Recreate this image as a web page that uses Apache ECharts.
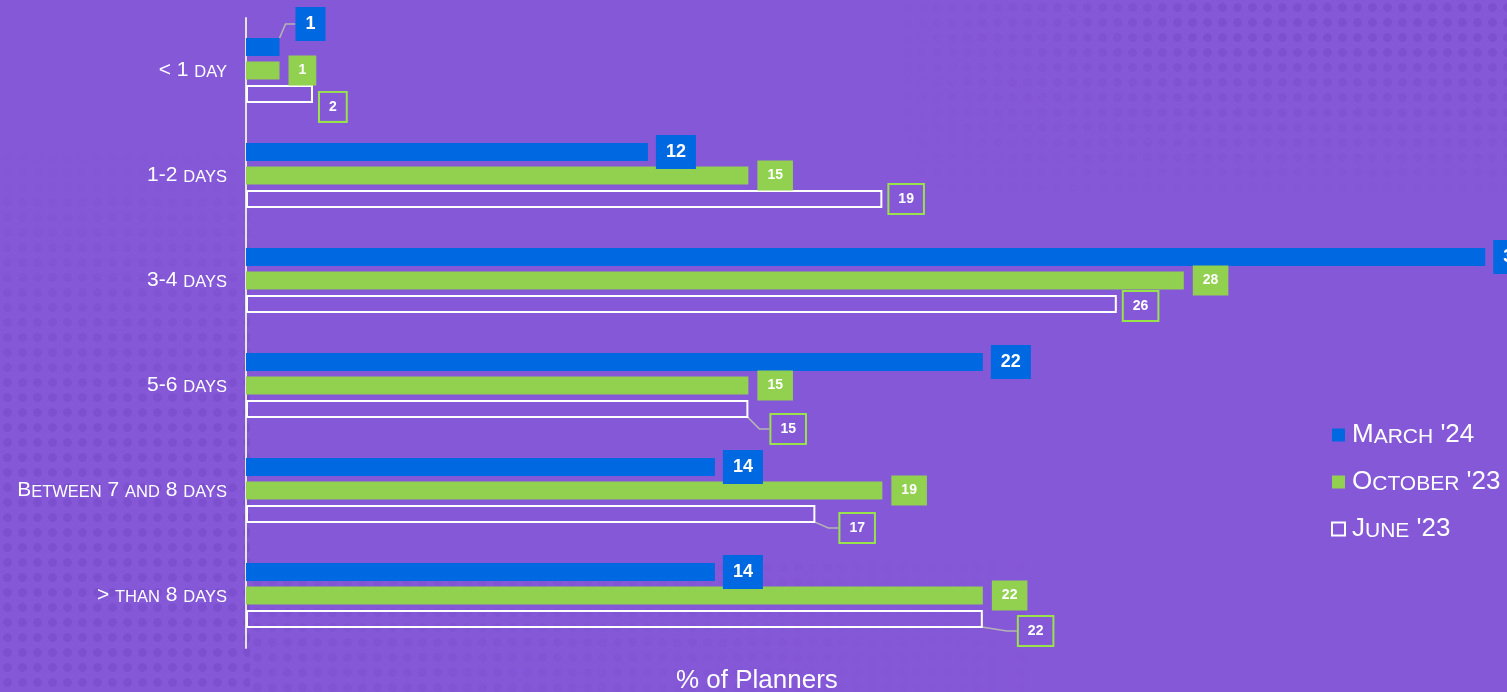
<!DOCTYPE html>
<html>
<head>
<meta charset="utf-8">
<title>Length of trip</title>
<script src="https://cdn.jsdelivr.net/npm/echarts@6/dist/echarts.min.js"></script>
<style>
  html, body { margin: 0; padding: 0; width: 1507px; height: 692px; overflow: hidden; background: #8558d8; }
  .dots {
    position: absolute; pointer-events: none;
    background-image: radial-gradient(circle, rgba(95, 55, 175, 0.22) 4px, rgba(95, 55, 175, 0) 4.8px);
    background-size: 15px 15px;
  }
  #dotsTop { left: 900px; top: 0; width: 607px; height: 200px;
    -webkit-mask-image: linear-gradient(to bottom, #000 20%, rgba(0,0,0,0) 100%), linear-gradient(to right, rgba(0,0,0,0) 0%, #000 50%);
    -webkit-mask-composite: source-in;
    mask-image: linear-gradient(to bottom, #000 20%, rgba(0,0,0,0) 100%), linear-gradient(to right, rgba(0,0,0,0) 0%, #000 50%);
    mask-composite: intersect; }
  #dotsLeft { left: 0; top: 150px; width: 250px; height: 542px;
    -webkit-mask-image: linear-gradient(to bottom, rgba(0,0,0,0) 0%, #000 50%, #000 100%);
    mask-image: linear-gradient(to bottom, rgba(0,0,0,0) 0%, #000 50%, #000 100%); }
  #dotsBottom { left: 250px; top: 560px; width: 800px; height: 132px; opacity: 0.6;
    -webkit-mask-image: linear-gradient(to right, #000 0%, rgba(0,0,0,0) 100%);
    mask-image: linear-gradient(to right, #000 0%, rgba(0,0,0,0) 100%); }
  #chart { position: absolute; left: 0; top: 0; width: 1507px; height: 692px; }
</style>
</head>
<body>
<div class="dots" id="dotsTop"></div>
<div class="dots" id="dotsLeft"></div>
<div class="dots" id="dotsBottom"></div>
<div id="chart"></div>
<script>
// Trip length categories and share of planners (%) per survey wave
const categories = ['< 1 day', '1-2 days', '3-4 days', '5-6 days', 'Between 7 and 8 days', '> than 8 days'];
const seriesNames = ["March '24", "October '23", "June '23"];
const march24 = [1, 12, 37, 22, 14, 14];
const october23 = [1, 15, 28, 15, 19, 22];
const june23 = [2, 19, 26, 15, 17, 22];

// Label nudges [dx, dy, showLeaderLine] where labels would crowd
const marchNudge = [[8, -23, true], [0, 0, false], [0, 0, false], [0, 0, false], [0, 0, false], [0, 0, false]];
const juneNudge = [[0, 13, false], [0, 0, false], [0, 2, false], [16, 20, true], [18, 14, true], [29, 12, true]];

const FONT = 'Arial, "Liberation Sans", sans-serif';
const BLUE = '#0068e0';
const GREEN = '#92d050';
const LIME = '#98e24a';

// Render text in small caps: lowercase runs become smaller uppercase
function smallCaps(s) {
  let out = '', run = '', mode = null;
  for (const ch of s) {
    const m = /[a-z]/.test(ch) ? 's' : 'b';
    if (mode !== null && m !== mode && run) { out += '{' + mode + '|' + run + '}'; run = ''; }
    mode = m;
    run += m === 's' ? ch.toUpperCase() : ch;
  }
  if (run) out += '{' + mode + '|' + run + '}';
  return out;
}

function withLine(values, nudges) {
  return values.map((v, i) => ({ value: v, labelLine: { show: nudges[i][2] } }));
}

const chart = echarts.init(document.getElementById('chart'), null, { renderer: 'canvas' });

const option = {
  backgroundColor: 'transparent',
  animation: false,
  textStyle: { fontFamily: FONT },
  title: {
    text: '% of Planners',
    left: 671,
    top: 663,
    textStyle: { color: '#ffffff', fontSize: 26, fontWeight: 'normal', fontFamily: FONT }
  },
  legend: {
    orient: 'vertical',
    left: 1326,
    top: 417,
    itemWidth: 13,
    itemHeight: 13,
    itemGap: 21,
    icon: 'rect',
    data: seriesNames,
    formatter: name => smallCaps(name),
    textStyle: {
      color: '#ffffff',
      padding: [0, 0, 0, 2],
      rich: {
        b: { fontSize: 26, lineHeight: 26, verticalAlign: 'bottom', color: '#fff', fontFamily: FONT },
        s: { fontSize: 21, lineHeight: 21, verticalAlign: 'bottom', color: '#fff', fontFamily: FONT }
      }
    }
  },
  grid: { left: 246, top: 18, right: 0, height: 630, containLabel: false },
  xAxis: {
    type: 'value',
    min: 0,
    max: 37.65,
    show: false,
    splitLine: { show: false }
  },
  yAxis: {
    type: 'category',
    inverse: true,
    data: categories,
    axisLine: { show: true, lineStyle: { color: '#e4e4e4', width: 2 } },
    axisTick: { show: false },
    axisLabel: {
      margin: 19,
      color: '#ffffff',
      formatter: v => smallCaps(v),
      rich: {
        b: { fontSize: 21, lineHeight: 21, verticalAlign: 'bottom', color: '#fff', fontFamily: FONT },
        s: { fontSize: 16.5, lineHeight: 16.5, verticalAlign: 'bottom', color: '#fff', fontFamily: FONT }
      }
    }
  },
  series: [
    {
      name: seriesNames[0],
      type: 'bar',
      barWidth: 18,
      barGap: '30%',
      data: withLine(march24, marchNudge),
      itemStyle: { color: BLUE },
      label: {
        show: true,
        position: 'right',
        distance: 8,
        color: '#fff',
        fontWeight: 'bold',
        fontSize: 18,
        lineHeight: 18,
        fontFamily: FONT,
        backgroundColor: BLUE,
        padding: [8, 10]
      },
      labelLine: { lineStyle: { color: '#b4b4b4', width: 1.5 }, length2: 10 },
      labelLayout: p => ({ dx: marchNudge[p.dataIndex][0], dy: marchNudge[p.dataIndex][1] })
    },
    {
      name: seriesNames[1],
      type: 'bar',
      barWidth: 18,
      barGap: '30%',
      data: october23,
      itemStyle: { color: GREEN },
      label: {
        show: true,
        position: 'right',
        distance: 9,
        color: '#fff',
        fontWeight: 'bold',
        fontSize: 14,
        lineHeight: 14,
        fontFamily: FONT,
        backgroundColor: GREEN,
        padding: [8, 10]
      }
    },
    {
      name: seriesNames[2],
      type: 'bar',
      barWidth: 18,
      barGap: '30%',
      data: withLine(june23, juneNudge),
      itemStyle: { color: 'rgba(133,88,216,0)', borderColor: '#ffffff', borderWidth: 2 },
      label: {
        show: true,
        position: 'right',
        distance: 7,
        color: '#fff',
        fontWeight: 'bold',
        fontSize: 14,
        lineHeight: 14,
        fontFamily: FONT,
        backgroundColor: '#8558d8',
        borderColor: LIME,
        borderWidth: 2,
        padding: [7, 9]
      },
      labelLine: { lineStyle: { color: '#b4b4b4', width: 1.5 }, length2: 10 },
      labelLayout: p => ({ dx: juneNudge[p.dataIndex][0], dy: juneNudge[p.dataIndex][1] })
    }
  ]
};

chart.setOption(option);
</script>
</body>
</html>
